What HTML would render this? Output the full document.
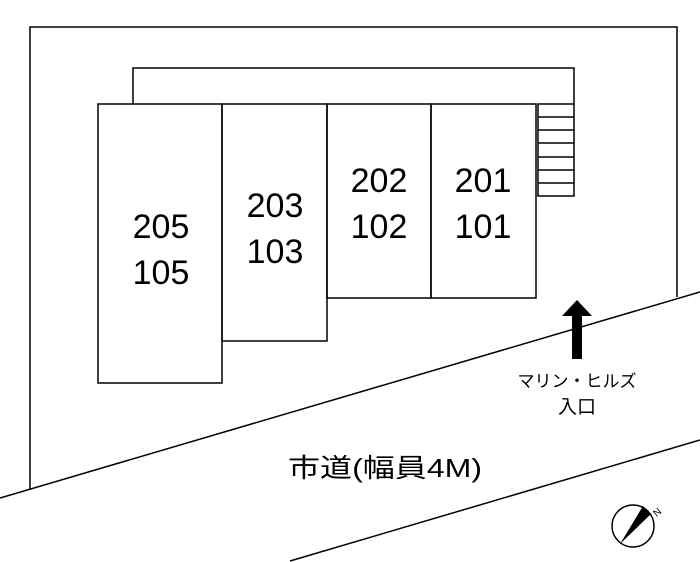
<!DOCTYPE html>
<html><head><meta charset="utf-8"><style>
body{margin:0;background:#fff;}
svg{display:block}
text{font-family:"Liberation Sans","Noto Sans CJK JP",sans-serif;fill:#000}
</style></head><body>
<svg width="700" height="562" viewBox="0 0 700 562" xmlns="http://www.w3.org/2000/svg">
<g fill="none" stroke="#000" stroke-width="1.5">
<polyline points="30,490 30,27 677,27 677,297"/>
<line x1="0" y1="498" x2="700" y2="292"/>
<line x1="290" y1="561" x2="700" y2="440"/>
<polyline points="133,104 133,68 574,68 574,104"/>
<rect x="98" y="104" width="124" height="279"/>
<rect x="222" y="104" width="105" height="237"/>
<rect x="327" y="104" width="104" height="194"/>
<rect x="431" y="104" width="105" height="194"/>
<rect x="538" y="104" width="36" height="92"/>
<line x1="538" y1="117" x2="574" y2="117"/>
<line x1="538" y1="130" x2="574" y2="130"/>
<line x1="538" y1="143" x2="574" y2="143"/>
<line x1="538" y1="157" x2="574" y2="157"/>
<line x1="538" y1="170" x2="574" y2="170"/>
<line x1="538" y1="183" x2="574" y2="183"/>
<circle cx="633" cy="526" r="21"/>
</g>
<polygon points="577,300 592,316 582,316 582,359 572,359 572,316 562,316" fill="#000"/>
<polygon points="651,514 643,506 620,544" fill="#000"/>
<text x="654" y="518" font-size="10" transform="rotate(-40 654 514)">N</text>
<g font-size="34" text-anchor="middle">
<text x="161" y="238">205</text><text x="161" y="284">105</text>
<text x="275" y="217">203</text><text x="275" y="263">103</text>
<text x="379" y="192">202</text><text x="379" y="238">102</text>
<text x="483" y="192">201</text><text x="483" y="238">101</text>
</g>
<text x="577" y="387" font-size="17" text-anchor="middle">マリン・ヒルズ</text>
<text x="577" y="413" font-size="19" text-anchor="middle">入口</text>
<text x="288" y="477" font-size="26" textLength="194" lengthAdjust="spacingAndGlyphs">市道(幅員4M)</text>
</svg>
</body></html>
